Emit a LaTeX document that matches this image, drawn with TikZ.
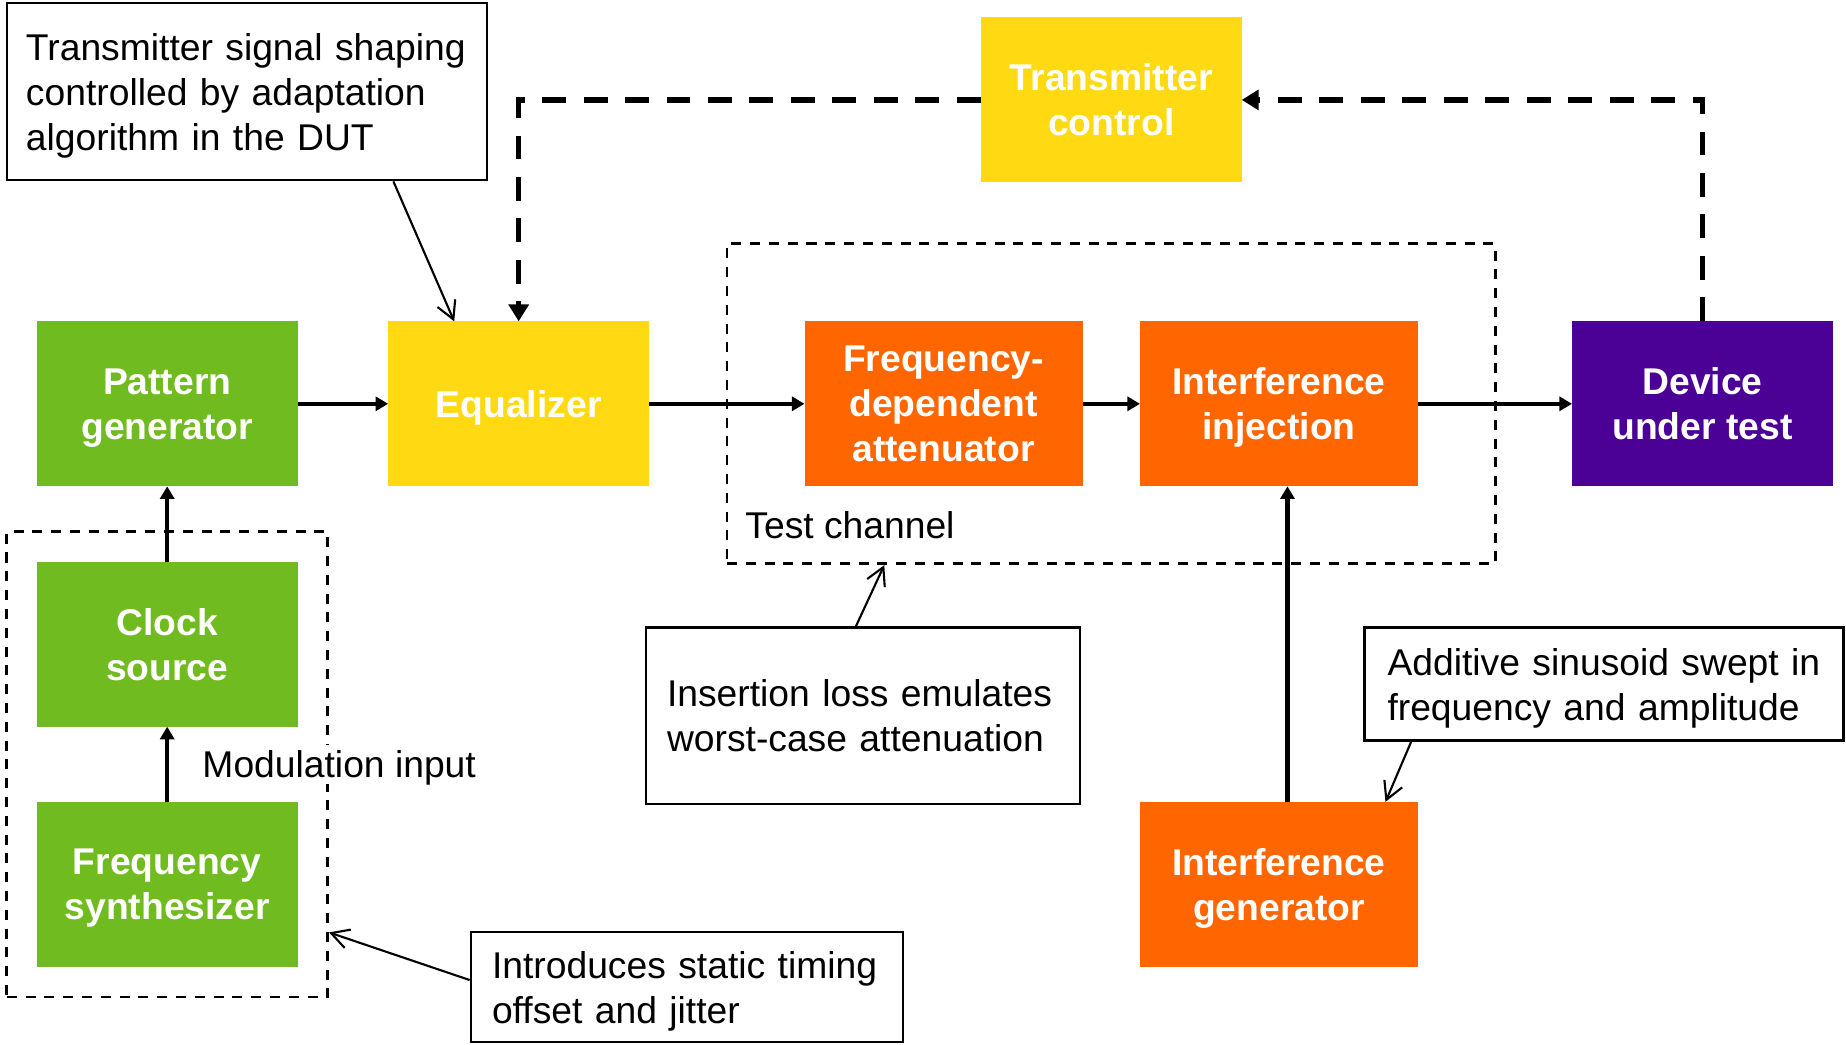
\documentclass[tikz,border=0pt]{standalone}
\usepackage{fontspec}
\setmainfont{Liberation Sans}
\usepackage{tikz}
\usetikzlibrary{positioning}
\usetikzlibrary{arrows.meta,fit,calc}

\definecolor{blockgreen}{HTML}{70BB20}
\definecolor{blockyellow}{HTML}{FFD912}
\definecolor{blockorange}{HTML}{FF6600}
\definecolor{blockpurple}{HTML}{4B0096}

\tikzset{
  block/.style={minimum width=2.61cm, minimum height=1.65cm, inner sep=0pt, outer sep=0pt,
    align=center, text=white, font=\fontsize{10.6}{12.8}\selectfont\bfseries, text depth=0pt},
  wideblock/.style={block, minimum width=2.78cm},
  note/.style={draw, line width=0.8pt, fill=white, align=left,
    inner xsep=0.21cm, inner ysep=0pt,
    execute at begin node={\rule{0pt}{10pt}},
    execute at end node={\rule[-2.2pt]{0pt}{2.2pt}}},
  group/.style={draw, line width=0.75pt, dash pattern=on 2.85pt off 2.5pt},
  flow/.style={line width=1.3pt, -{Triangle[length=3.6pt,width=4pt]}},
  feedback/.style={line width=1.5pt, dash pattern=on 6.8pt off 5pt,
    -{Triangle[length=4.8pt,width=5.6pt]}},
  callout/.style={line width=0.6pt, -{Straight Barb[length=5pt,width=5.5pt]}},
}

\begin{document}
\begin{tikzpicture}[font=\fontsize{10.6}{12.8}\selectfont]
    \useasboundingbox (0,0) rectangle (18.46,-10.44);

    \node(patgen) [block, fill=blockgreen] at (1.672,-4.038) {Pattern\\generator};
    \node(eq) [block, fill=blockyellow, right = 0.905cm of patgen] {Equalizer};
    \node(fda) [wideblock, fill=blockorange, right = 1.553cm of eq] {Frequency-\\dependent\\attenuator};
    \node(inj) [wideblock, fill=blockorange, right = 0.575cm of fda] {Interference\\injection};
    \node(dut) [block, fill=blockpurple, right = 1.54cm of inj] {Device\\under test};
    \node(clk) [block, fill=blockgreen, below = 0.754cm of patgen] {Clock\\source};
    \node(synth) [block, fill=blockgreen, below = 0.754cm of clk] {Frequency\\synthesizer};
    \node(intgen) [wideblock, fill=blockorange, below = 3.155cm of inj] {Interference\\generator};
    \node(txctl) [block, fill=blockyellow] at ($(fda.north)!0.5!(inj.north)+(0,2.214)$) {Transmitter\\control};

    \node(testch) [group, fit=(fda)(inj), inner sep=0.775cm] {};
    \node(clkgrp) [group, fit=(clk)(synth), inner sep=0.3cm] {};
    \node(tclabel) [anchor=west, inner sep=0pt] at ($(testch.south west)+(0.19,0.4)$) {Test channel};

    \node(notetx) [note, inner xsep=0.19cm, text width=4.42cm, minimum height=1.77cm] at (2.47,-0.915)
      {Transmitter signal shaping\\controlled by adaptation\\algorithm in the DUT};
    \node(noteins) [note, text width=3.92cm, minimum height=1.765cm] at (8.63,-7.1575)
      {Insertion loss emulates\\worst-case attenuation};
    \node(noteadd) [note, inner xsep=0.23cm, text width=4.33cm, minimum height=1.13cm] at (16.04,-6.84)
      {Additive sinusoid swept in\\frequency and amplitude};
    \node(noteintro) [note, text width=3.9cm, minimum height=1.1cm] at (6.87,-9.87)
      {Introduces static timing\\offset and jitter};

    \draw [flow] (patgen) -- (eq);
    \draw [flow] (eq) -- (fda);
    \draw [flow] (fda) -- (inj);
    \draw [flow] (inj) -- (dut);
    \draw [flow] (clk) -- (patgen);
    \draw [flow] (synth) -- node[right = 0.27cm, fill=white, inner sep=0.06cm, text depth=0pt] {Modulation input} (clk);
    \draw [flow] ([xshift=0.085cm]intgen.north) -- ([xshift=0.085cm]inj.south);

    \draw [feedback] (dut.north) |- (txctl.east);
    \draw [feedback] (txctl.west) -| (eq.north);

    \draw [callout] ([xshift=-0.95cm]notetx.south east) -- ([xshift=0.66cm]eq.north west);
    \draw [callout] ([xshift=-0.07cm]noteins.north) -- ([xshift=1.586cm]testch.south west);
    \draw [callout] ([xshift=0.48cm]noteadd.south west) -- ([xshift=-0.325cm]intgen.north east);
    \draw [callout] ([yshift=0.07cm]noteintro.west) -- ([yshift=-1.68cm]clkgrp.east);
\end{tikzpicture}
\end{document}
